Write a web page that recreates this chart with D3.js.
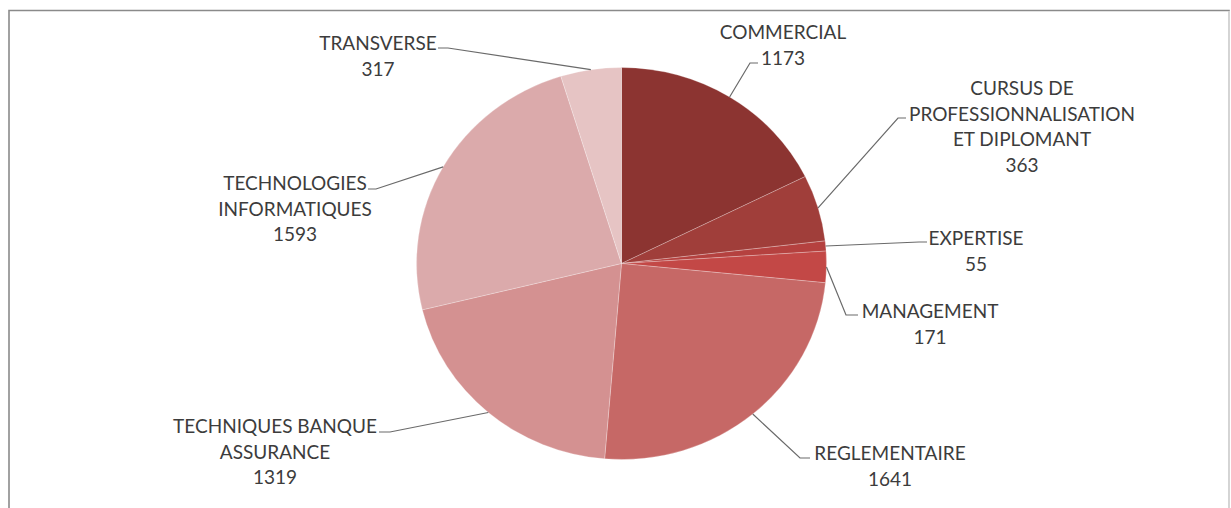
<!DOCTYPE html>
<html>
<head>
<meta charset="utf-8">
<script src="https://cdn.jsdelivr.net/npm/d3@7"></script>
<style>
body { margin: 0; background: #fff; }
.sliceLabel { font-family: Lato, "Open Sans", sans-serif; font-size: 19px; fill: #3c3c3c; }
.leader { fill: none; stroke: #6a6a6a; stroke-width: 1.2; }
</style>
</head>
<body>
<div id="chart"></div>
<script>
/* data */
var categories = ["COMMERCIAL", "CURSUS DE PROFESSIONNALISATION ET DIPLOMANT", "EXPERTISE", "MANAGEMENT",
  "REGLEMENTAIRE", "TECHNIQUES BANQUE ASSURANCE", "TECHNOLOGIES INFORMATIQUES", "TRANSVERSE"]
var values = [1173, 363, 55, 171, 1641, 1319, 1593, 317]
var labelLines = [
  ["COMMERCIAL"],
  ["CURSUS DE", "PROFESSIONNALISATION", "ET DIPLOMANT"],
  ["EXPERTISE"],
  ["MANAGEMENT"],
  ["REGLEMENTAIRE"],
  ["TECHNIQUES BANQUE", "ASSURANCE"],
  ["TECHNOLOGIES", "INFORMATIQUES"],
  ["TRANSVERSE"]
]
var sliceColors = ["#8c3431", "#a03e3a", "#b5413f", "#c34846", "#c66866", "#d49191", "#dbaaab", "#e6c4c4"]

/* label layout: centre x, first baseline, leader elbow and end */
var labelLayout = [
  {x: 783, y: 39, elbow: [750, 63], end: [758, 63]},
  {x: 1022, y: 95, elbow: [898, 118], end: [906, 118]},
  {x: 976, y: 245, elbow: [919, 242], end: [927, 242]},
  {x: 930, y: 318, elbow: [846, 315], end: [858, 315]},
  {x: 890, y: 460, elbow: [800, 458], end: [810, 458]},
  {x: 275, y: 433, elbow: [390, 432], end: [379, 432]},
  {x: 295, y: 190, elbow: [376, 189], end: [368, 189]},
  {x: 378, y: 50, elbow: [448, 48], end: [438, 48]}
]

var W = 1231, H = 508
var cx = 621.5, cy = 263.5, rx = 205, ry = 196
var lineGap = 25.5

var svg = d3.select("#chart").append("svg")
  .attr("width", W)
  .attr("height", H)

svg.append("rect")
  .attr("width", W).attr("height", H)
  .attr("fill", "#fff")

/* frame */
svg.append("path")
  .attr("d", "M9,520 L9,10.5 L1229,10.5 L1229,520")
  .attr("fill", "none")
  .attr("stroke", "#8a8a8a")
  .attr("stroke-width", 1.6)
svg.append("line")
  .attr("x1", 1229).attr("x2", 1229).attr("y1", 11).attr("y2", 520)
  .attr("stroke", "#e2e2e2").attr("stroke-width", 1.6)

var pieData = d3.pie().sort(null).value(function(d) { return d })(values)
var arc = d3.arc().innerRadius(0).outerRadius(rx)

var pieG = svg.append("g")
  .attr("transform", "translate(" + cx + "," + cy + ") scale(1," + (ry / rx) + ")")

pieG.selectAll("path")
  .data(pieData)
  .enter()
  .append("path")
  .attr("d", arc)
  .attr("fill", function(d, i) { return sliceColors[i] })
  .attr("stroke", "rgba(255,255,255,0.25)")
  .attr("stroke-width", 1)
  .attr("vector-effect", "non-scaling-stroke")

function edgePoint(d) {
  var a = (d.startAngle + d.endAngle) / 2
  return [cx + rx * Math.sin(a), cy - ry * Math.cos(a)]
}

/* leaders */
svg.selectAll(".leader")
  .data(pieData)
  .enter()
  .append("polyline")
  .attr("class", "leader")
  .attr("points", function(d, i) {
    var p = edgePoint(d), L = labelLayout[i]
    return [p, L.elbow, L.end].map(function(q) { return q.join(",") }).join(" ")
  })

/* labels */
var labels = svg.selectAll(".sliceLabel")
  .data(pieData)
  .enter()
  .append("text")
  .attr("class", "sliceLabel")
  .attr("text-anchor", "middle")
  .attr("x", function(d, i) { return labelLayout[i].x })
  .attr("y", function(d, i) { return labelLayout[i].y })

labels.each(function(d, i) {
  var t = d3.select(this)
  var lines = labelLines[i].concat([String(values[i])])
  lines.forEach(function(s, k) {
    t.append("tspan")
      .attr("x", labelLayout[i].x)
      .attr("dy", k === 0 ? 0 : lineGap)
      .text(s)
  })
})
</script>
</body>
</html>
